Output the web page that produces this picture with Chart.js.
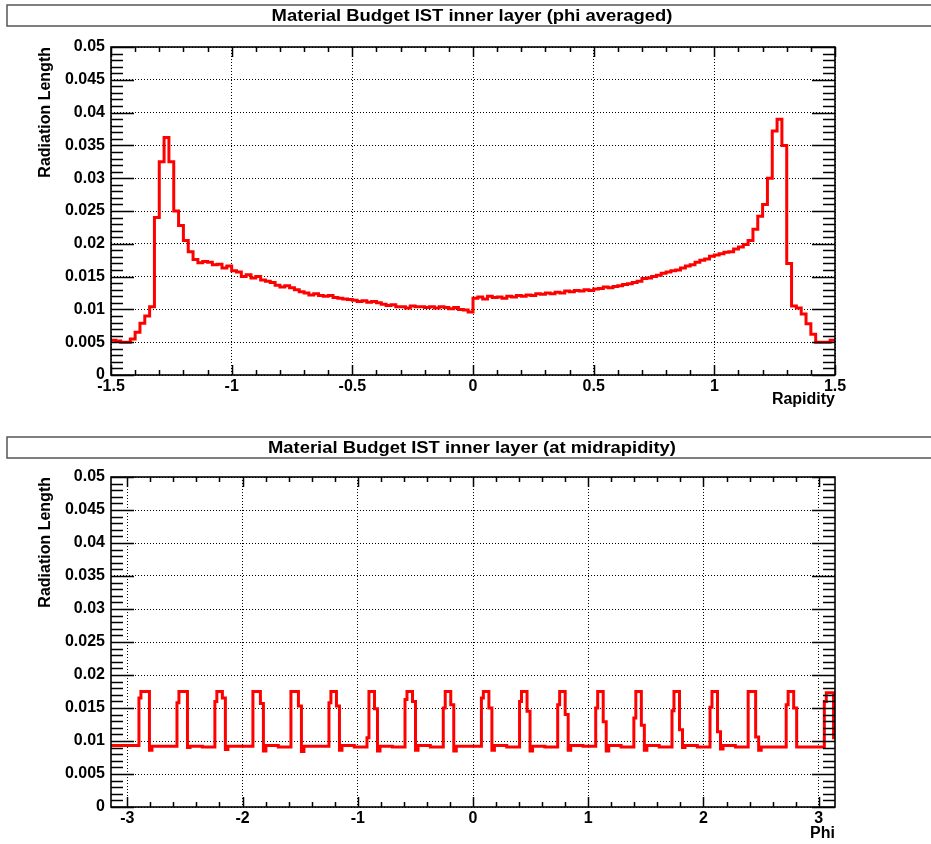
<!DOCTYPE html>
<html>
<head>
<meta charset="utf-8">
<script src="https://cdn.jsdelivr.net/npm/chart.js"></script>
<style>
  html, body { margin: 0; padding: 0; background: #fff; }
  canvas { position: absolute; left: 0; }
  #topChart { top: 0; }
  #bottomChart { top: 430px; }
</style>
</head>
<body>
<canvas id="topChart" width="931" height="430"></canvas>
<canvas id="bottomChart" width="931" height="414"></canvas>
<script>
// --- data ---
// top: radiation length vs rapidity, bins of 0.02 starting at -1.5
var rapidityStart = -1.5;
var rapidityBinWidth = 0.02;
var rapidityValues = [
  0.0053, 0.0052, 0.0050, 0.0050, 0.0055, 0.0065, 0.0079, 0.0090, 0.0104, 0.0240,
  0.0325, 0.0362, 0.0325, 0.0250, 0.0228, 0.0205, 0.0188, 0.0176, 0.0171, 0.0173,
  0.0172, 0.0168, 0.0169, 0.0163, 0.0166, 0.0159, 0.0157, 0.0150, 0.0153, 0.0148,
  0.0150, 0.0145, 0.0143, 0.0141, 0.0137, 0.0134, 0.0136, 0.0133, 0.0130, 0.0127,
  0.0125, 0.0122, 0.0124, 0.0121, 0.0120, 0.0121, 0.0118, 0.0117, 0.0116, 0.0115,
  0.0114, 0.0112, 0.0113, 0.0111, 0.0112, 0.0110, 0.0108, 0.0106, 0.0107, 0.0104,
  0.0104, 0.0102, 0.0105, 0.0104, 0.0104, 0.0103, 0.0104, 0.0102, 0.0104, 0.0103,
  0.0101, 0.0103, 0.0100, 0.0099, 0.0096, 0.0117, 0.0119, 0.0116, 0.0120, 0.0118,
  0.0119, 0.0117, 0.0120, 0.0119, 0.0121, 0.0120, 0.0122, 0.0121, 0.0124, 0.0123,
  0.0125, 0.0124, 0.0126, 0.0125, 0.0128, 0.0127, 0.0129, 0.0128, 0.0130, 0.0129,
  0.0131, 0.0132, 0.0134, 0.0133, 0.0135, 0.0136, 0.0138, 0.0139, 0.0141, 0.0143,
  0.0147, 0.0148, 0.0150, 0.0152, 0.0155, 0.0157, 0.0159, 0.0160, 0.0163, 0.0166,
  0.0168, 0.0172, 0.0175, 0.0177, 0.0181, 0.0183, 0.0185, 0.0187, 0.0188, 0.0192,
  0.0195, 0.0199, 0.0205, 0.0222, 0.0242, 0.0260, 0.0300, 0.0372, 0.0390, 0.0350,
  0.0170, 0.0105, 0.0102, 0.0093, 0.0078, 0.0062, 0.0050, 0.0050, 0.0050, 0.0053
];

// bottom: radiation length vs phi at midrapidity, step edges and the value from each edge on
var phiEdges = [
  -3.1416,
  -2.899, -2.882, -2.834, -2.808, -2.786, -2.679,
  -2.569, -2.552, -2.504, -2.478, -2.456, -2.349,
  -2.240, -2.223, -2.175, -2.149, -2.127, -2.020,
  -1.910, -1.893, -1.845, -1.819, -1.797, -1.690,
  -1.580, -1.563, -1.515, -1.489, -1.467, -1.360,
  -1.250, -1.233, -1.185, -1.159, -1.137, -1.030,
  -0.920, -0.903, -0.855, -0.829, -0.807, -0.700,
  -0.590, -0.573, -0.525, -0.499, -0.477, -0.370,
  -0.258, -0.241, -0.193, -0.167, -0.145, -0.038,
  0.073, 0.090, 0.138, 0.164, 0.186, 0.293,
  0.404, 0.421, 0.469, 0.495, 0.517, 0.624,
  0.735, 0.752, 0.800, 0.826, 0.848, 0.955,
  1.065, 1.082, 1.130, 1.156, 1.178, 1.285,
  1.396, 1.413, 1.461, 1.487, 1.509, 1.616,
  1.727, 1.744, 1.792, 1.818, 1.840, 1.947,
  2.057, 2.074, 2.122, 2.148, 2.170, 2.277,
  2.388, 2.405, 2.453, 2.479, 2.501, 2.608,
  2.718, 2.735, 2.783, 2.809, 2.831, 2.938,
  3.049, 3.066, 3.129, 3.1416
];
var phiValues = [
  0.0093,
  0.0165, 0.0175, 0.0175, 0.0086, 0.0092, 0.0092,
  0.0158, 0.0175, 0.0175, 0.0090, 0.0092, 0.0091,
  0.0160, 0.0175, 0.0165, 0.0087, 0.0092, 0.0092,
  0.0175, 0.0175, 0.0157, 0.0085, 0.0093, 0.0091,
  0.0175, 0.0175, 0.0153, 0.0084, 0.0092, 0.0092,
  0.0158, 0.0175, 0.0153, 0.0086, 0.0093, 0.0091,
  0.0105, 0.0175, 0.0149, 0.0085, 0.0092, 0.0091,
  0.0163, 0.0175, 0.0160, 0.0086, 0.0093, 0.0091,
  0.0150, 0.0175, 0.0155, 0.0085, 0.0092, 0.0092,
  0.0165, 0.0175, 0.0150, 0.0086, 0.0093, 0.0091,
  0.0160, 0.0175, 0.0145, 0.0085, 0.0092, 0.0091,
  0.0155, 0.0175, 0.0140, 0.0086, 0.0093, 0.0092,
  0.0150, 0.0175, 0.0129, 0.0085, 0.0093, 0.0091,
  0.0135, 0.0175, 0.0124, 0.0086, 0.0093, 0.0091,
  0.0146, 0.0175, 0.0117, 0.0090, 0.0093, 0.0091,
  0.0151, 0.0175, 0.0114, 0.0088, 0.0093, 0.0091,
  0.0175, 0.0175, 0.0106, 0.0086, 0.0091, 0.0091,
  0.0155, 0.0175, 0.0150, 0.0091, 0.0091, 0.0091,
  0.0160, 0.0173, 0.0105, 0.0105
];

var topTitle = 'Material Budget IST inner layer (phi averaged)';
var bottomTitle = 'Material Budget IST inner layer (at midrapidity)';
var yTitle = 'Radiation Length';

var FONT = '"Liberation Sans", Arial, Helvetica, sans-serif';
Chart.defaults.font.family = FONT;
Chart.defaults.color = '#000';

// ROOT-like frame: title box, solid frame, inward ticks on all four sides
var rootFrame = {
  id: 'rootFrame',
  afterDraw: function(chart, args, opts) {
    var ctx = chart.ctx, a = chart.chartArea;
    var xs = chart.scales.x, ys = chart.scales.y;
    ctx.save();

    // title box
    ctx.fillStyle = '#fff';
    ctx.strokeStyle = '#555';
    ctx.lineWidth = 1.5;
    ctx.fillRect(7, opts.boxTop, 940, opts.boxH);
    ctx.strokeRect(7, opts.boxTop, 940, opts.boxH);
    ctx.save();
    ctx.translate(472, opts.boxTop + opts.boxH / 2 + 1);
    ctx.scale(1.15, 1);
    ctx.fillStyle = '#000';
    ctx.font = 'bold 16px ' + FONT;
    ctx.textAlign = 'center';
    ctx.textBaseline = 'middle';
    ctx.fillText(opts.title, 0, 0);
    ctx.restore();

    ctx.strokeStyle = '#000';
    ctx.lineWidth = 1.5;
    ctx.beginPath();
    // y ticks every 0.001, major every 0.005
    for (var i = 0; i <= 50; i++) {
      var py = Math.round(ys.getPixelForValue(i * 0.001)) + 0.5;
      var len = i % 5 === 0 ? 23 : 12;
      ctx.moveTo(a.left, py); ctx.lineTo(a.left + len, py);
      ctx.moveTo(a.right, py); ctx.lineTo(a.right - len, py);
    }
    // x ticks
    for (var j = -15; j <= 15; j++) {
      var v = j * opts.xStep;
      if (v < xs.min - 1e-9 || v > xs.max + 1e-9) continue;
      var px = Math.round(xs.getPixelForValue(v)) + 0.5;
      var l = j % 5 === 0 ? 10 : 5;
      ctx.moveTo(px, a.bottom); ctx.lineTo(px, a.bottom - l);
      ctx.moveTo(px, a.top); ctx.lineTo(px, a.top + l);
    }
    ctx.stroke();

    ctx.lineWidth = 1.6;
    ctx.strokeRect(a.left, a.top, a.right - a.left, a.bottom - a.top);
    ctx.restore();
  }
};

function makeOptions(o) {
  var tickFont = { family: FONT, size: 16, weight: 'bold' };
  return {
    responsive: false,
    animation: false,
    layout: { padding: { top: 47, right: 96, left: 0, bottom: 0 } },
    plugins: {
      legend: { display: false },
      tooltip: { enabled: false },
      rootFrame: { title: o.title, boxTop: o.boxTop, boxH: 21, xStep: o.xStep }
    },
    scales: {
      x: {
        type: 'linear',
        min: o.xMin,
        max: o.xMax,
        afterFit: function(s) { s.height = o.xAxisHeight; },
        grid: { color: '#000', lineWidth: 1, drawTicks: false },
        border: { display: false, dash: [1, 2] },
        ticks: {
          stepSize: o.xStepMajor,
          includeBounds: false,
          autoSkip: false,
          maxRotation: 0,
          padding: 2,
          color: '#000',
          font: tickFont,
          callback: function(v) { return String(+(+v).toFixed(2)); }
        },
        title: {
          display: true, text: o.xTitle, align: 'end', color: '#000',
          font: tickFont, padding: { top: 0, bottom: o.xTitlePad }
        }
      },
      y: {
        min: 0,
        max: 0.05,
        afterFit: function(s) { s.width = 111; },
        grid: { color: '#000', lineWidth: 1, drawTicks: false },
        border: { display: false, dash: [1, 2] },
        ticks: {
          stepSize: 0.005,
          padding: 6,
          color: '#000',
          font: tickFont,
          callback: function(v) { return String(+(+v).toFixed(3)); }
        },
        title: {
          display: true, text: yTitle, align: 'end', color: '#000',
          font: tickFont, padding: { top: 36, bottom: 0 }
        }
      }
    }
  };
}

function lineDataset(points) {
  return {
    data: points,
    stepped: 'before',
    borderColor: '#ff0000',
    borderWidth: 3,
    pointRadius: 0,
    fill: false
  };
}

// top chart points: bin low edges, plus the upper edge of the last bin
var rapPoints = rapidityValues.map(function(v, i) {
  return { x: rapidityStart + i * rapidityBinWidth, y: v };
});
rapPoints.push({ x: rapidityStart + rapidityValues.length * rapidityBinWidth, y: rapidityValues[rapidityValues.length - 1] });

var phiPoints = phiEdges.map(function(e, i) { return { x: e, y: phiValues[i] }; });

new Chart(document.getElementById('topChart').getContext('2d'), {
  type: 'line',
  data: { datasets: [lineDataset(rapPoints)] },
  options: makeOptions({
    title: topTitle, boxTop: 5, xStep: 0.1, xStepMajor: 0.5,
    xMin: -1.5, xMax: 1.5, xAxisHeight: 55, xTitle: 'Rapidity', xTitlePad: 21
  }),
  plugins: [rootFrame]
});

new Chart(document.getElementById('bottomChart').getContext('2d'), {
  type: 'line',
  data: { datasets: [lineDataset(phiPoints)] },
  options: makeOptions({
    title: bottomTitle, boxTop: 7, xStep: 0.2, xStepMajor: 1,
    xMin: -3.1416, xMax: 3.1416, xAxisHeight: 37, xTitle: 'Phi', xTitlePad: 1
  }),
  plugins: [rootFrame]
});
</script>
</body>
</html>
